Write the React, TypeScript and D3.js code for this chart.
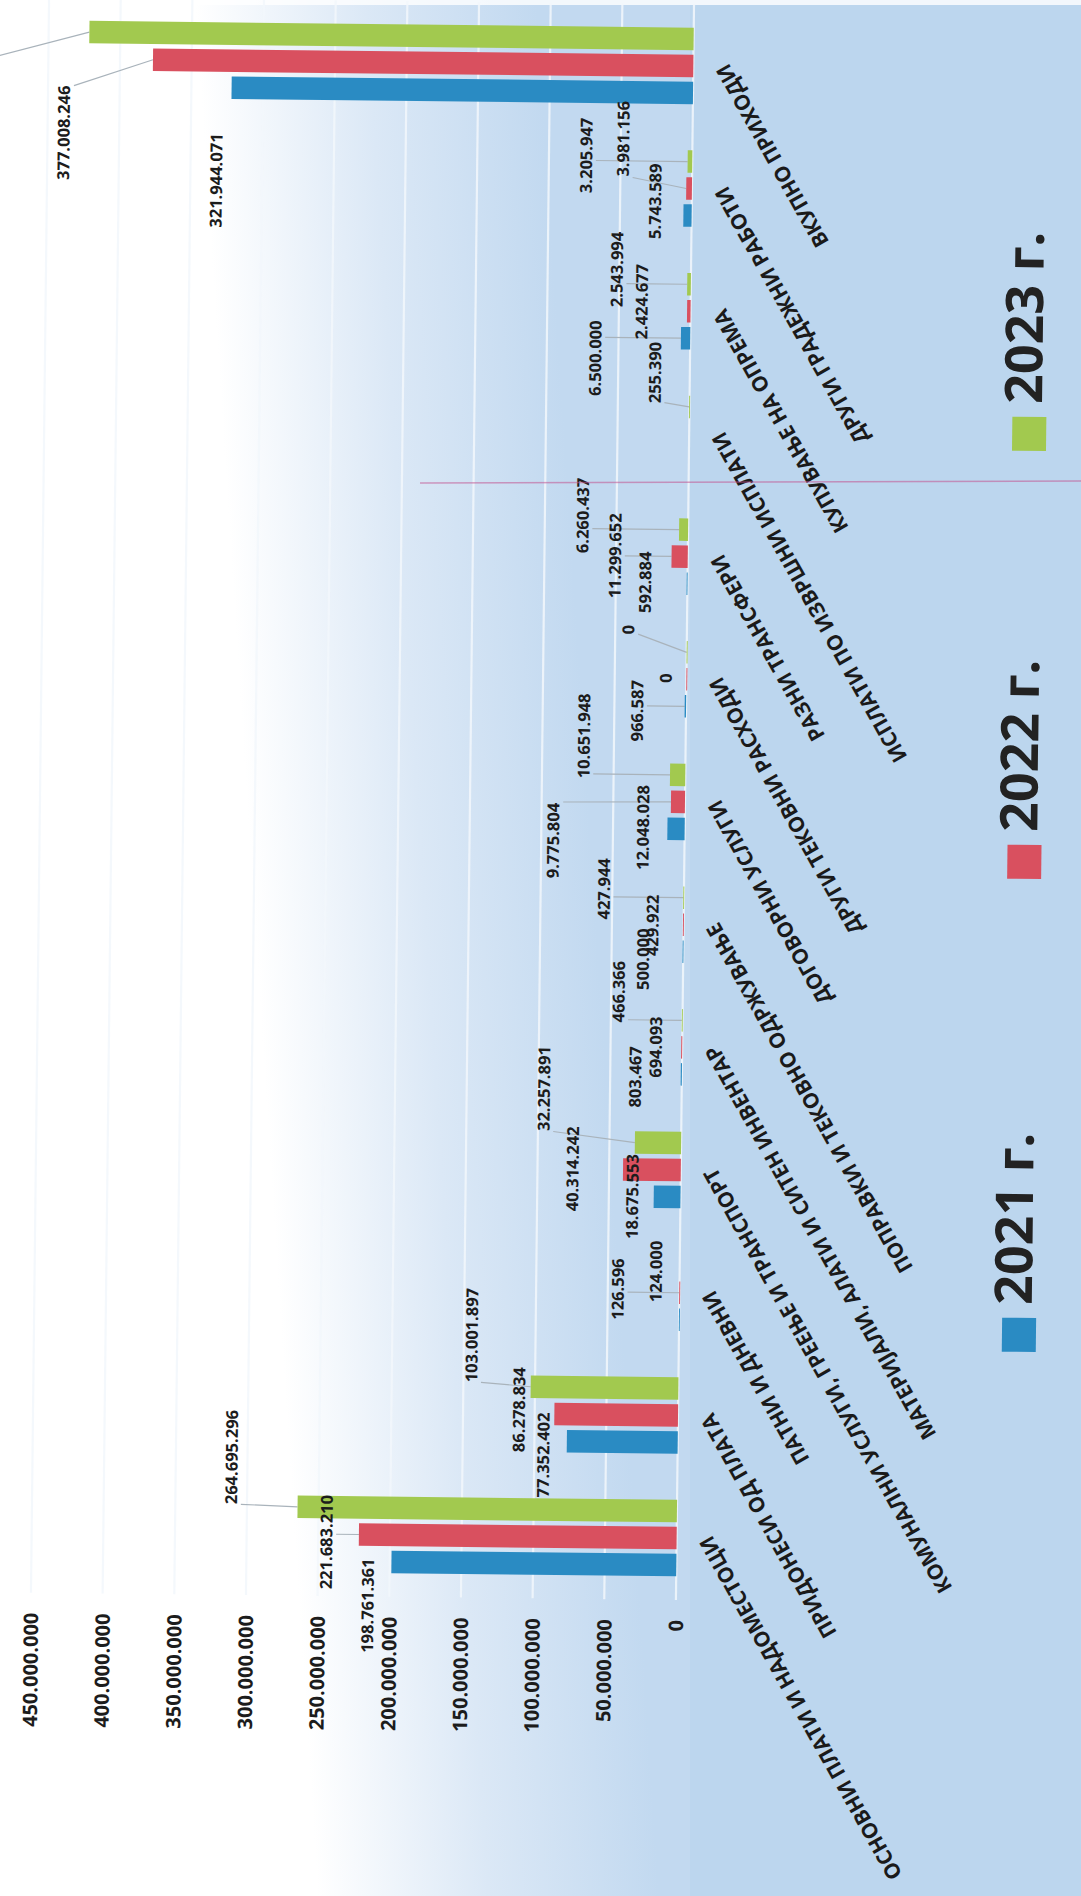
import React from "react";
import * as d3 from "d3";

// ---------- data ----------
const categories = [
  "ОСНОВНИ ПЛАТИ И НАДОМЕСТОЦИ",
  "ПРИДОНЕСИ ОД ПЛАТА",
  "ПАТНИ И ДНЕВНИ",
  "КОМУНАЛНИ УСЛУГИ, ГРЕЕЊЕ И ТРАНСПОРТ",
  "МАТЕРИЈАЛИ, АЛАТИ И СИТЕН ИНВЕНТАР",
  "ПОПРАВКИ И ТЕКОВНО ОДРЖУВАЊЕ",
  "ДОГОВОРНИ УСЛУГИ",
  "ДРУГИ ТЕКОВНИ РАСХОДИ",
  "РАЗНИ ТРАНСФЕРИ",
  "ИСПЛАТИ ПО ИЗВРШНИ ИСПЛАТИ",
  "КУПУВАЊЕ НА ОПРЕМА",
  "ДРУГИ ГРАДЕЖНИ РАБОТИ",
  "ВКУПНО ПРИХОДИ",
];
const seriesNames = ["2021 г.", "2022 г.", "2023 г."];
const values2021: (number | null)[] = [198761361, 77352402, 124000, 18675553, 803467, 500000, 12048028, 966587, 592884, null, 6500000, 5743589, 321944071];
const values2022: (number | null)[] = [221683210, 86278834, 126596, 40314242, 694093, 429922, 9775804, 0, 11299652, null, 2424677, 3981156, 377008246];
const values2023: (number | null)[] = [264695296, 103001897, null, 32257891, 466366, 427944, 10651948, 0, 6260437, 255390, 2543994, 3205947, 421600000];
const valueTicks = [0, 50000000, 100000000, 150000000, 200000000, 250000000, 300000000, 350000000, 400000000, 450000000];

// ---------- layout (label placement: [dx, dy, leader, visible]) ----------
const labelLayout2021: [number, number, boolean, boolean][] = [
  [-24, 44, false, true], [-24, 14, false, true], [-24, -48, false, true], [-22, 0, false, true], [-46, 3, false, true], [-40, 8, false, true],
  [-25, -1, false, true], [-48, 5, true, true], [-42, -1, false, true], [0, 0, false, true], [-86, 21, true, true], [-29, -14, false, true], [-15, 93, false, true],
];
const labelLayout2022: [number, number, boolean, boolean][] = [
  [-33, 8, true, true], [-36, -4, false, true], [-62, -3, true, true], [-51, 0, false, true], [-26, 0, false, true], [-31, 1, false, true],
  [-118, 40, true, true], [-21, -1, false, true], [-57, 0, true, true], [0, 0, false, true], [-46, -9, false, true], [-64, -49, true, true], [-89, 74, true, true],
];
const labelLayout2023: [number, number, boolean, boolean][] = [
  [-67, -49, true, true], [-60, -51, true, true], [0, 0, false, true], [-92, -53, true, true], [-64, -28, true, true], [-80, -8, true, true],
  [-87, -38, true, true], [-59, -22, true, true], [-97, -13, true, true], [-35, -34, true, true], [-71, -14, true, true], [-102, -5, true, true], [-130, 80, true, false],
];

const colors = ["#2a8bc3", "#d9505f", "#a2c94f"];
const FONT = "'Open Sans', 'Noto Sans', sans-serif";
const W = 1081;
const H = 1896;

const locale = d3.formatLocale({ decimal: ",", thousands: ".", grouping: [3], currency: ["", ""] });
const fmt = locale.format(",d");

export default function App() {
  const x = d3.scaleLinear().domain([0, 450000000]).range([685, 40]);
  const y0 = d3.scaleBand<string>().domain(categories).range([1599.5, 4.5]);
  const inner = d3
    .scaleBand<string>()
    .domain([seriesNames[2], seriesNames[1], seriesNames[0]])
    .range([0, 76.5])
    .paddingInner(4.5 / 27);
  const innerOff = (y0.bandwidth() - 76.5) / 2;

  const allValues = [values2021, values2022, values2023];
  const layouts = [labelLayout2021, labelLayout2022, labelLayout2023];

  const dataFs = 16.5;
  const bars: any[] = [];
  const labels: any[] = [];
  const leaders: any[] = [];

  allValues.forEach((vals, si) => {
    vals.forEach((v, ci) => {
      if (v === null) return;
      const cat = categories[ci];
      const by = (y0(cat) as number) + innerOff + (inner(seriesNames[si]) as number);
      const bh = inner.bandwidth();
      const x0 = x(0);
      const x1 = x(v);
      bars.push(
        <rect key={`b${si}-${ci}`} x={Math.min(x0, x1)} y={by} width={Math.max(Math.abs(x0 - x1), 0.9)} height={bh} fill={colors[si]} />
      );
      const [dx, dy, lead, visible] = layouts[si][ci];
      const cy = by + bh / 2;
      const lx = x1 + dx;
      const ly = cy + dy;
      const txt = fmt(v);
      const len = txt.length * 0.52 * dataFs;
      if (visible) {
        labels.push(
          <text
            key={`l${si}-${ci}`}
            transform={`translate(${lx},${ly}) rotate(-90)`}
            textAnchor="middle"
            dominantBaseline="central"
            fontFamily={FONT}
            fontWeight={700}
            fontSize={dataFs}
            fill="#1c1c1c"
          >
            {txt}
          </text>
        );
      }
      if (lead) {
        const hx = Math.max(lx - dataFs / 2, Math.min(x1, lx + dataFs / 2 + 2));
        const hy = Math.max(ly - len / 2, Math.min(cy, ly + len / 2));
        leaders.push(<line key={`ld${si}-${ci}`} x1={x1} y1={cy} x2={hx} y2={hy} stroke="#a9b3bb" strokeWidth={1.2} />);
      }
    });
  });

  return (
    <svg width={W} height={H} style={{ position: "absolute", left: 0, top: 0, display: "block" }}>
      <defs>
        <linearGradient id="bg" gradientUnits="userSpaceOnUse" x1={250} y1={850} x2={590} y2={828}>
          <stop offset="0" stopColor="#ffffff" />
          <stop offset="0.5" stopColor="#dbe8f6" />
          <stop offset="1" stopColor="#c2d9f0" />
        </linearGradient>
      </defs>
      <rect x={0} y={0} width={W} height={H} fill="url(#bg)" />
      <rect x={690} y={0} width={W - 690} height={H} fill="#bad4ee" opacity={0.75} />
      <rect x={0} y={0} width={W} height={5} fill="#ffffff" opacity={0.8} />
      <g transform="rotate(0.65, 684, 800)">
        {valueTicks.map((t) => (
          <line key={`g${t}`} x1={x(t)} x2={x(t)} y1={4.5} y2={1600} stroke="#f2f7fc" strokeOpacity={0.85} strokeWidth={2.2} />
        ))}
        {leaders}
        {bars}
        {labels}
        {valueTicks.map((t) => (
          <text
            key={`t${t}`}
            transform={`translate(${x(t)},1620) rotate(-90)`}
            textAnchor="end"
            dominantBaseline="central"
            fontFamily={FONT}
            fontWeight={700}
            fontSize={20}
            fill="#1c1c1c"
          >
            {fmt(t)}
          </text>
        ))}
        {categories.map((c) => (
          <text
            key={`c${c}`}
            transform={`translate(${x(0) + 28},${(y0(c) as number) + y0.bandwidth() / 2}) rotate(-120)`}
            textAnchor="end"
            dominantBaseline="central"
            fontFamily={FONT}
            fontWeight={700}
            fontSize={21}
            fill="#1a1a1a"
          >
            {c}
          </text>
        ))}
        {seriesNames.map((s, i) => {
          const cy = [1331, 858, 430][i];
          return (
            <g key={`lg${s}`}>
              <rect x={1008} y={cy - 17} width={34} height={34} fill={colors[i]} />
              <text
                transform={`translate(${1017},${cy - 30}) rotate(-90)`}
                textAnchor="start"
                dominantBaseline="central"
                fontFamily={FONT}
                fontWeight={700}
                fontSize={52}
                fill="#222"
              >
                {s}
              </text>
            </g>
          );
        })}
      </g>
      <line x1={420} y1={483} x2={W} y2={481} stroke="#c2538f" strokeOpacity={0.55} strokeWidth={1.5} />
    </svg>
  );
}
